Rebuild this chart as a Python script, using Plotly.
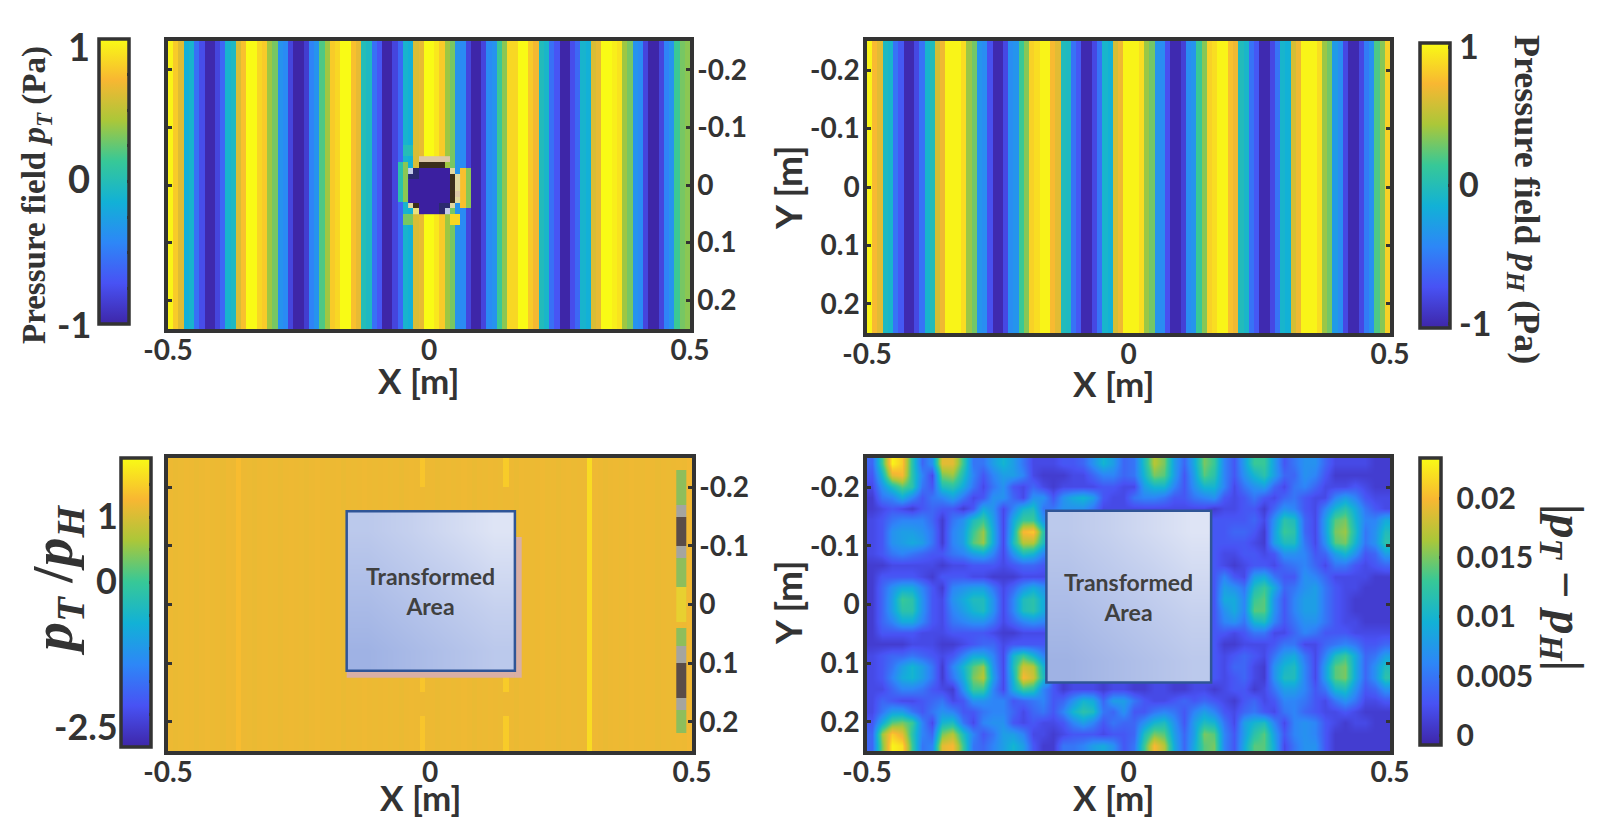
#!/usr/bin/env python3

import numpy as np
from plotly.subplots import make_subplots
import plotly.graph_objects as go

WIDTH = 1597
HEIGHT = 825

X_TICKS = [-0.5, 0, 0.5]
X_LABELS = ["-0.5", "0", "0.5"]
Y_TICKS = [-0.2, -0.1, 0, 0.1, 0.2]
Y_LABELS = ["-0.2", "-0.1", "0", "0.1", "0.2"]

PARULA = [
    "#3E26A8", "#4852F4", "#2D87F7", "#12B1D6",
    "#37C897", "#ABC739", "#F8B732", "#F9FB15",
]

# pressure field with the transformed region, one value per x column
PT_COLUMNS = [
    0.97, 0.8, 0.62, -0.15, -0.1, -0.55, -0.75, -0.98, -0.98, -0.8,
    -0.6, -0.1, -0.05, 0.6, 0.75, 1, 1, 0.85, 0.8, 0.4,
    0.3, -0.35, -0.4, -0.8, -1, -1, -0.85, -0.45, -0.35, 0.2,
    0.4, 0.8, 0.85, 1, 1, 0.75, 0.65, 0, -0.05, -0.55,
    -0.7, -1, -1, -0.8, -0.6, -0.1, -0.15, 0.6, 0.65, 1,
    1, 0.92, 0.8, 0.4, 0.3, -0.35, -0.4, -0.8, -1, -1,
    -0.8, -0.4, -0.35, 0.15, 0.35, 0.85, 0.85, 1, 1, 0.8,
    0.7, -0.02, -0.08, -0.55, -0.7, -1, -1, -0.75, -0.6, -0.1,
    -0.15, 0.6, 0.65, 1, 1, 0.95, 0.9, 0.4, 0.3, -0.35,
    -0.4, -0.8, -1, -1, -0.8, -0.45, -0.35, 0.15, 0.3, 0.35,
]
PT_ROW_COUNT = 50
# disturbed cells round the hole: first row, last row, first col, last col, value
PT_DISTURBED = [
    (18, 19, 45, 46, 0.0), (21, 27, 44, 44, 0.05), (21, 27, 45, 45, 0.35),
    (30, 31, 45, 46, 0.3), (22, 28, 56, 56, 0.75), (22, 28, 57, 57, 0.35),
    (30, 31, 54, 55, 0.85),
]
# hole cells, rows 20 to 29, columns 46 to 55
HOLE_FIRST_ROW = 20
HOLE_FIRST_COL = 46
HOLE_ROWS = [
    "..PPPPPP..",
    "..BBBBB...",
    "LNIIIIIIT.",
    "NNIIIIIIBT",
    "IIIIIIIIBT",
    "IIIIIIIIBT",
    "IIIIIIIIBP",
    "IIIIIIIIBT",
    "TBIIIINNT.",
    ".YIIIINL..",
]
HOLE_CODES = {"I": 0, "N": 1, "B": 2, "P": 3, "L": 4, "T": 5, "Y": 6}
HOLE_COLORS = ["#3B1FA0", "#2B2A70", "#3A2E1A", "#DCC8A8", "#C4CCE8", "#E0D8A0", "#E8E080"]

# homogeneous pressure field, one value per x column
PH_COLUMNS = [
    1, 0.75, 0.65, -0.05, -0.1, -0.55, -0.7, -1, -1, -0.8,
    -0.55, -0.1, -0.02, 0.6, 0.7, 1, 1, 1, 0.9, 0.4,
    0.3, -0.35, -0.4, -0.75, -1, -1, -0.8, -0.4, -0.35, 0.15,
    0.35, 0.85, 0.9, 1, 1, 0.75, 0.65, -0.02, -0.05, -0.55,
    -0.7, -1, -1, -0.8, -0.55, -0.1, -0.15, 0.6, 0.7, 1,
    1, 1, 0.9, 0.4, 0.3, -0.35, -0.4, -0.75, -1, -1,
    -0.85, -0.4, -0.35, 0.15, 0.35, 0.85, 0.9, 1, 1, 0.78,
    0.7, -0.02, -0.08, -0.55, -0.7, -1, -1, -0.8, -0.55, -0.1,
    -0.15, 0.6, 0.7, 1, 1, 1, 0.9, 0.4, 0.3, -0.3,
    -0.4, -0.8, -1, -1, -0.8, -0.5, -0.38, 0.2, 0.35, 0.85,
]

# ratio field, nearly flat with a few streaks
RATIO_COLUMNS = [
    1.18, 1.16, 1.17, 1.19, 1.18, 1.16, 1.18, 1.2, 1.17, 1.18,
    1.16, 1.19, 1.18, 1.32, 1.18, 1.17, 1.16, 1.18, 1.19, 1.17,
    1.18, 1.16, 1.18, 1.19, 1.18, 1.17, 1.16, 1.18, 1.2, 1.18,
    1.17, 1.18, 1.19, 1.16, 1.18, 1.17, 1.18, 1.2, 1.18, 1.17,
    1.18, 1.19, 1.17, 1.18, 1.16, 1.18, 1.19, 1.18, 1.18, 1.17,
    1.18, 1.16, 1.18, 1.19, 1.17, 1.18, 1.2, 1.18, 1.16, 1.18,
    1.17, 1.19, 1.18, 1.17, 1.18, 1.18, 1.16, 1.19, 1.18, 1.17,
    1.18, 1.2, 1.17, 1.18, 1.16, 1.18, 1.19, 1.17, 1.18, 1.18,
    1.6, 1.2, 1.18, 1.16, 1.18, 1.19, 1.17, 1.18, 1.2, 1.18,
    1.17, 1.19, 1.18, 1.16, 1.18, 1.17, 1.18, 1.19, 1.18, 1.22,
]
RATIO_ROW_COUNT = 50
# columns 48 and 64 only lift in these rows
RATIO_STREAK_ROWS = [0, 1, 2, 3, 4, 37, 38, 39, 44, 45, 46, 47, 48, 49]
RATIO_STREAK_COLS = [48, 64]
RATIO_STREAK_VALUES = [1.4, 1.46]
# right edge strip per row, 0 means no strip
RATIO_EDGE_FIRST_COL = 97
RATIO_EDGE = [
    0, 0, 1, 1, 1, 1, 1, 1, 2, 2,
    3, 3, 3, 3, 3, 2, 2, 1, 1, 1,
    1, 1, 4, 4, 4, 4, 4, 4, 0, 1,
    1, 1, 2, 2, 2, 3, 3, 3, 3, 3,
    3, 2, 2, 1, 1, 1, 1, 0, 0, 0,
]
RATIO_EDGE_COLORS = ["#8DBE5C", "#A5A5A0", "#5A4C48", "#E8D030"]

# difference field in 0.001 Pa, the box has no values except its last column
BOX = [None] * 16 + [3]
DIFF_ROWS = [
    [4, 13, 23, 21, 12, 4, 7, 19, 19, 13, 5, 5, 8, 10, 8, 5, 2, 2, 2, 3, 3, 4, 7, 10, 8, 4, 5, 11, 17, 15, 8, 4, 9, 15, 13, 6, 3, 8, 13, 13, 8, 3, 5, 7, 7, 4, 2, 2, 2, 2, 1, 1],
    [3, 10, 19, 20, 12, 6, 2, 15, 16, 11, 6, 3, 6, 8, 8, 6, 2, 1, 1, 1, 2, 2, 4, 6, 6, 4, 5, 10, 15, 14, 8, 3, 8, 14, 12, 6, 3, 7, 10, 12, 8, 4, 4, 7, 6, 3, 1, 1, 1, 1, 1, 1],
    [2, 7, 11, 14, 12, 5, 3, 11, 12, 9, 5, 2, 5, 7, 3, 2, 4, 2, 1, 2, 2, 2, 2, 3, 3, 2, 2, 8, 10, 10, 6, 3, 7, 10, 10, 6, 2, 5, 7, 8, 4, 2, 5, 6, 4, 2, 2, 2, 3, 2, 1, 1],
    [1, 5, 6, 9, 6, 3, 5, 6, 8, 5, 2, 3, 7, 7, 4, 2, 7, 7, 3, 7, 9, 10, 8, 3, 2, 2, 5, 6, 6, 5, 3, 3, 5, 6, 7, 3, 2, 3, 5, 3, 2, 4, 5, 3, 2, 2, 6, 8, 6, 3, 2, 2],
    [1, 2, 3, 2, 1, 3, 4, 3, 3, 1, 3, 9, 7, 2, 6, 10, 11, 5, 5, 7, 7, 7, 5, 2, 2, 2, 2, 2, 2, 2, 2, 2, 2, 2, 1, 2, 2, 3, 3, 1, 4, 7, 6, 3, 2, 6, 10, 12, 9, 5, 3, 2],
    [2, 3, 5, 6, 6, 6, 4, 1, 5, 7, 11, 13, 8, 2, 9, 13, 13, 7, *BOX, 3, 3, 3, 4, 2, 7, 12, 11, 4, 2, 8, 14, 15, 10, 6, 6, 9],
    [2, 3, 7, 8, 8, 7, 5, 1, 6, 8, 13, 16, 9, 2, 10, 20, 21, 12, *BOX, 3, 4, 4, 3, 1, 8, 13, 12, 4, 2, 8, 15, 16, 11, 5, 7, 11],
    [2, 3, 7, 8, 9, 8, 5, 1, 6, 8, 14, 16, 9, 2, 11, 17, 17, 11, *BOX, 3, 3, 3, 2, 1, 8, 11, 11, 5, 2, 7, 14, 15, 10, 5, 7, 12],
    [2, 3, 5, 6, 5, 4, 3, 3, 5, 6, 8, 9, 6, 2, 7, 11, 10, 6, *BOX, 2, 2, 3, 3, 2, 3, 7, 7, 6, 3, 4, 8, 10, 7, 3, 4, 8],
    [1, 1, 2, 2, 2, 2, 2, 1, 2, 2, 3, 3, 3, 2, 3, 4, 4, 3, *BOX, 2, 1, 2, 3, 3, 2, 4, 5, 6, 4, 2, 5, 5, 3, 2, 3, 4],
    [1, 3, 3, 3, 3, 2, 1, 3, 3, 3, 2, 2, 1, 1, 1, 2, 2, 2, *BOX, 6, 3, 2, 8, 9, 5, 3, 3, 7, 6, 4, 2, 2, 2, 2, 1, 1],
    [1, 4, 7, 9, 9, 6, 3, 1, 6, 7, 8, 8, 5, 2, 4, 7, 9, 7, *BOX, 8, 7, 5, 11, 13, 9, 4, 5, 7, 8, 5, 3, 2, 2, 1, 1, 1],
    [1, 4, 8, 13, 12, 7, 3, 2, 7, 9, 11, 11, 7, 2, 6, 11, 12, 9, *BOX, 9, 9, 6, 13, 14, 7, 3, 6, 8, 8, 5, 3, 2, 1, 1, 1, 1],
    [1, 4, 8, 12, 12, 7, 3, 2, 6, 8, 10, 11, 7, 2, 6, 11, 12, 9, *BOX, 7, 9, 6, 14, 14, 7, 3, 6, 8, 8, 5, 3, 2, 1, 1, 1, 1],
    [1, 4, 6, 9, 9, 6, 3, 2, 5, 6, 7, 7, 5, 2, 4, 6, 7, 6, *BOX, 6, 7, 5, 10, 11, 6, 3, 5, 7, 7, 5, 3, 2, 2, 1, 1, 1],
    [1, 3, 3, 3, 3, 2, 2, 2, 3, 3, 3, 3, 2, 1, 1, 2, 2, 2, *BOX, 3, 2, 3, 5, 5, 2, 2, 4, 6, 5, 3, 3, 3, 2, 2, 2, 2],
    [1, 1, 1, 1, 2, 2, 2, 1, 1, 2, 3, 4, 4, 2, 3, 3, 3, 3, *BOX, 1, 1, 2, 2, 2, 3, 5, 5, 2, 2, 4, 5, 6, 5, 3, 3, 4],
    [2, 3, 4, 4, 5, 4, 3, 2, 3, 6, 9, 9, 6, 2, 10, 13, 10, 6, *BOX, 2, 3, 4, 3, 2, 5, 8, 9, 5, 2, 6, 11, 13, 9, 4, 5, 8],
    [2, 3, 5, 8, 10, 8, 5, 1, 6, 10, 14, 16, 7, 2, 11, 18, 17, 10, *BOX, 2, 4, 4, 2, 1, 7, 10, 11, 6, 2, 8, 14, 15, 9, 4, 7, 11],
    [2, 3, 6, 9, 10, 8, 5, 1, 5, 9, 15, 17, 8, 2, 10, 20, 18, 11, *BOX, 2, 3, 4, 2, 1, 7, 11, 11, 6, 2, 8, 14, 15, 9, 4, 7, 12],
    [2, 2, 4, 6, 6, 5, 3, 2, 1, 7, 13, 13, 6, 2, 9, 13, 12, 6, 3, 1, 2, 2, 2, 1, 2, 2, 1, 1, 2, 2, 1, 1, 2, 2, 1, 2, 3, 3, 1, 2, 5, 8, 8, 6, 3, 5, 10, 11, 7, 3, 4, 7],
    [2, 4, 3, 2, 2, 3, 4, 5, 2, 3, 7, 7, 6, 6, 3, 4, 5, 6, 3, 4, 7, 10, 9, 4, 8, 8, 5, 3, 2, 2, 3, 4, 3, 4, 3, 2, 1, 3, 4, 2, 3, 6, 6, 5, 3, 2, 5, 7, 5, 2, 2, 3],
    [2, 5, 8, 8, 5, 3, 5, 7, 6, 3, 3, 5, 6, 6, 4, 2, 4, 5, 3, 6, 10, 12, 11, 5, 4, 7, 3, 3, 5, 6, 5, 3, 6, 8, 6, 3, 2, 4, 5, 3, 2, 5, 6, 4, 3, 2, 2, 3, 2, 1, 1, 1],
    [3, 9, 14, 15, 13, 6, 2, 10, 11, 5, 2, 6, 7, 7, 3, 2, 3, 2, 2, 3, 6, 8, 6, 3, 5, 4, 4, 7, 10, 11, 7, 3, 8, 11, 10, 5, 2, 8, 10, 11, 6, 2, 6, 7, 6, 3, 2, 1, 2, 2, 1, 1],
    [4, 16, 21, 19, 12, 6, 4, 15, 17, 11, 6, 3, 5, 8, 8, 6, 2, 2, 1, 2, 3, 3, 3, 2, 3, 3, 4, 11, 15, 14, 8, 4, 8, 15, 14, 6, 3, 8, 12, 14, 8, 3, 6, 7, 6, 3, 1, 1, 1, 1, 1, 1],
    [4, 15, 23, 22, 13, 5, 6, 19, 20, 13, 5, 4, 6, 8, 10, 8, 3, 1, 1, 5, 5, 6, 8, 9, 7, 3, 5, 13, 20, 17, 9, 4, 9, 14, 15, 6, 3, 9, 14, 14, 9, 2, 5, 7, 7, 3, 1, 1, 1, 1, 1, 1],
]

# corners of the pasted boxes: x0, x1, y0, y1
RATIO_BOX = [-0.159, 0.162, -0.159, 0.113]
DIFF_BOX = [-0.157, 0.158, -0.16, 0.133]
# shading inside a box, top row first
BOX_SHADE = [
    [0.45, 0.6, 0.8, 1],
    [0.3, 0.45, 0.6, 0.8],
    [0.15, 0.3, 0.45, 0.6],
    [0, 0.15, 0.3, 0.45],
]


def px(x):
    return x / WIDTH


def py(y):
    return 1 - y / HEIGHT


def stops(colors):
    return [[i / (len(colors) - 1), c] for i, c in enumerate(colors)]


def steps(colors):
    scale = []
    for i, color in enumerate(colors):
        scale.append([i / len(colors), color])
        scale.append([(i + 1) / len(colors), color])
    return scale


def colorbar(left, top, bottom, thickness, tickvals, ticktext=None, labels=True, size=34):
    bar = dict(
        x=px(left), xanchor="left", xpad=0,
        y=py(top), yanchor="top", ypad=0,
        len=bottom - top, lenmode="pixels",
        thickness=thickness, thicknessmode="pixels",
        outlinewidth=3.5, outlinecolor="#333333",
        ticks="inside", ticklen=3, tickwidth=2.5, tickcolor="#333333",
        tickvals=tickvals,
        showticklabels=labels,
        tickfont=dict(family="Lato", size=size, color="#333333", weight=700),
    )
    if ticktext:
        bar["ticktext"] = ticktext
    return bar


def box_fill(figure, bounds, row, col):
    x0, x1, y0, y1 = bounds
    figure.add_trace(
        go.Heatmap(
            x=np.linspace(x0, x1, 5),
            y=np.linspace(y0, y1, 5),
            z=BOX_SHADE,
            colorscale=[[0, "#9FB2E4"], [1, "#DEE4F5"]],
            zsmooth="best",
            showscale=False,
            hoverinfo="skip",
        ),
        row=row,
        col=col,
    )
    figure.add_shape(
        type="rect", x0=x0, x1=x1, y0=y0, y1=y1,
        line=dict(color="#2F5597", width=2.5),
        row=row, col=col,
    )


def label(figure, text, x, y, size, family="Lato", angle=0):
    figure.add_annotation(
        text=text, x=px(x), y=py(y), xref="paper", yref="paper",
        showarrow=False, textangle=angle, xanchor="center", yanchor="middle",
        font=dict(family=family, size=size, color="#333333", weight=700),
    )


def main():
    figure = make_subplots(rows=2, cols=2)

    pt_x = np.linspace(-0.5, 0.5, len(PT_COLUMNS) + 1)
    pt_y = np.linspace(-0.25, 0.25, PT_ROW_COUNT + 1)
    pt_z = np.array([PT_COLUMNS] * PT_ROW_COUNT, dtype=float)
    for row0, row1, col0, col1, value in PT_DISTURBED:
        pt_z[row0:row1 + 1, col0:col1 + 1] = value
    figure.add_trace(
        go.Heatmap(
            x=pt_x, y=pt_y, z=pt_z, zmin=-1, zmax=1,
            colorscale=stops(PARULA),
            colorbar=colorbar(99, 39, 324, 30, [-0.75, -0.5, -0.25, 0, 0.25, 0.5, 0.75], labels=False),
        ),
        row=1, col=1,
    )
    hole_z = [[HOLE_CODES.get(code) for code in line] for line in HOLE_ROWS]
    figure.add_trace(
        go.Heatmap(
            x=pt_x[HOLE_FIRST_COL:HOLE_FIRST_COL + 11],
            y=pt_y[HOLE_FIRST_ROW:HOLE_FIRST_ROW + 11],
            z=hole_z, zmin=-0.5, zmax=6.5,
            colorscale=steps(HOLE_COLORS),
            showscale=False, hoverinfo="skip",
        ),
        row=1, col=1,
    )

    figure.add_trace(
        go.Heatmap(
            x=np.linspace(-0.5, 0.5, len(PH_COLUMNS) + 1),
            y=[-0.25, 0.25],
            z=[PH_COLUMNS], zmin=-1.03, zmax=1.03,
            colorscale=stops(PARULA),
            colorbar=colorbar(1420, 43, 328, 30, [-1, 0, 1], ["-1", "0", "1"]),
        ),
        row=1, col=2,
    )

    ratio_x = np.linspace(-0.5, 0.5, len(RATIO_COLUMNS) + 1)
    ratio_y = np.linspace(-0.25, 0.25, RATIO_ROW_COUNT + 1)
    ratio_z = np.array([RATIO_COLUMNS] * RATIO_ROW_COUNT, dtype=float)
    for col, value in zip(RATIO_STREAK_COLS, RATIO_STREAK_VALUES):
        ratio_z[RATIO_STREAK_ROWS, col] = value
    figure.add_trace(
        go.Heatmap(
            x=ratio_x, y=ratio_y, z=ratio_z, zmin=-2.5, zmax=1.9,
            colorscale=stops(PARULA),
            colorbar=colorbar(121, 458, 747, 30, [-2, -1.5, -1, -0.5, 0, 0.5, 1, 1.5], labels=False),
        ),
        row=2, col=1,
    )
    edge_z = [[code or None] * 2 for code in RATIO_EDGE]
    figure.add_trace(
        go.Heatmap(
            x=ratio_x[RATIO_EDGE_FIRST_COL:RATIO_EDGE_FIRST_COL + 3],
            y=ratio_y,
            z=edge_z, zmin=0.5, zmax=4.5,
            colorscale=steps(RATIO_EDGE_COLORS),
            showscale=False, hoverinfo="skip",
        ),
        row=2, col=1,
    )
    x0, x1, y0, y1 = RATIO_BOX
    figure.add_shape(type="rect", x0=x1, x1=x1 + 0.013, y0=-0.115, y1=y1 + 0.012,
                     fillcolor="#D9AFA5", line_width=0, row=2, col=1)
    figure.add_shape(type="rect", x0=x0, x1=x1, y0=y1, y1=y1 + 0.012,
                     fillcolor="#D9AFA5", line_width=0, row=2, col=1)
    box_fill(figure, RATIO_BOX, 2, 1)

    diff_z = np.array(DIFF_ROWS, dtype=float) / 1000
    figure.add_trace(
        go.Heatmap(
            x=np.linspace(-0.5, 0.5, len(DIFF_ROWS[0]) + 1),
            y=np.linspace(-0.25, 0.25, len(DIFF_ROWS) + 1),
            z=diff_z, zmin=-0.0008, zmax=0.0234,
            colorscale=stops(PARULA), zsmooth="best",
            colorbar=colorbar(1420, 458, 745, 21, [0, 0.005, 0.01, 0.015, 0.02],
                              ["\u00a00", "\u00a00.005", "\u00a00.01", "\u00a00.015", "\u00a00.02"], size=30),
        ),
        row=2, col=2,
    )
    box_fill(figure, DIFF_BOX, 2, 2)

    # x span and y span of each panel in window pixels, y labels side
    panels = [
        (1, 1, 168, 690, 41, 329, "right"),
        (1, 2, 867, 1390, 41, 333, "left"),
        (2, 1, 168, 692, 458, 751, "right"),
        (2, 2, 867, 1390, 458, 751, "left"),
    ]
    tick_font = dict(family="Lato", size=28, color="#333333", weight=700)
    for row, col, left, right, top, bottom, side in panels:
        figure.update_xaxes(
            domain=[px(left), px(right)], range=[-0.5, 0.5],
            tickvals=X_TICKS, ticktext=X_LABELS, tickfont=tick_font,
            showline=True, mirror=True, linewidth=3.5, linecolor="#333333",
            showgrid=False, zeroline=False, ticks="", ticklabelstandoff=-6,
            row=row, col=col,
        )
        figure.update_yaxes(
            domain=[py(bottom), py(top)], range=[0.25, -0.25],
            tickvals=Y_TICKS, ticktext=Y_LABELS, tickfont=tick_font, side=side,
            showline=True, mirror="allticks", linewidth=3.5, linecolor="#333333",
            showgrid=False, zeroline=False,
            ticks="inside", ticklen=4, tickwidth=3, tickcolor="#333333",
            ticklabelstandoff=-2,
            row=row, col=col,
        )

    for x_ref, y_ref, y_text in (("x3", "y3", -0.023), ("x4", "y4", -0.013)):
        figure.add_annotation(
            text="Transformed<br>Area", x=0, y=y_text, xref=x_ref, yref=y_ref,
            showarrow=False,
            font=dict(family="Lato", size=23, color="#404040", weight=700),
        )

    label(figure, "X [m]", 418, 380, 35)
    label(figure, "X [m]", 1113, 383, 35)
    label(figure, "X [m]", 420, 797, 35)
    label(figure, "X [m]", 1113, 797, 35)
    label(figure, "Y [m]", 787, 188, 37, angle=-90)
    label(figure, "Y [m]", 787, 603, 37, angle=-90)

    # colour bars whose labels sit on the left
    label(figure, "1", 79, 46, 38)
    label(figure, "0", 79, 178, 38)
    label(figure, "-1", 74, 324, 36)
    label(figure, "1", 107, 515, 36)
    label(figure, "0", 106, 580, 36)
    label(figure, "-2.5", 86, 726, 36)

    serif = "Liberation Serif"
    label(figure, "Pressure field <i>p<sub>T</sub></i> (Pa)", 37, 195, 33, serif, -90)
    label(figure, "Pressure field <i>p<sub>H</sub></i> (Pa)", 1525, 199, 36, serif, 90)
    label(figure, "<i>p<sub>T</sub></i> /<i>p<sub>H</sub></i>", 56, 580, 58, serif, -90)
    label(figure, "|<i>p<sub>T</sub></i> − <i>p<sub>H</sub></i>|", 1563, 587, 48, serif, 90)

    figure.update_layout(
        width=WIDTH, height=HEIGHT,
        margin=dict(l=0, r=0, t=0, b=0, autoexpand=False),
        paper_bgcolor="white", plot_bgcolor="white",
        showlegend=False,
    )
    figure.write_html(
        "out.html",
        config={"displayModeBar": False},
        post_script="document.body.style.margin='0';document.body.style.overflow='hidden';",
    )


if __name__ == "__main__":
    main()
